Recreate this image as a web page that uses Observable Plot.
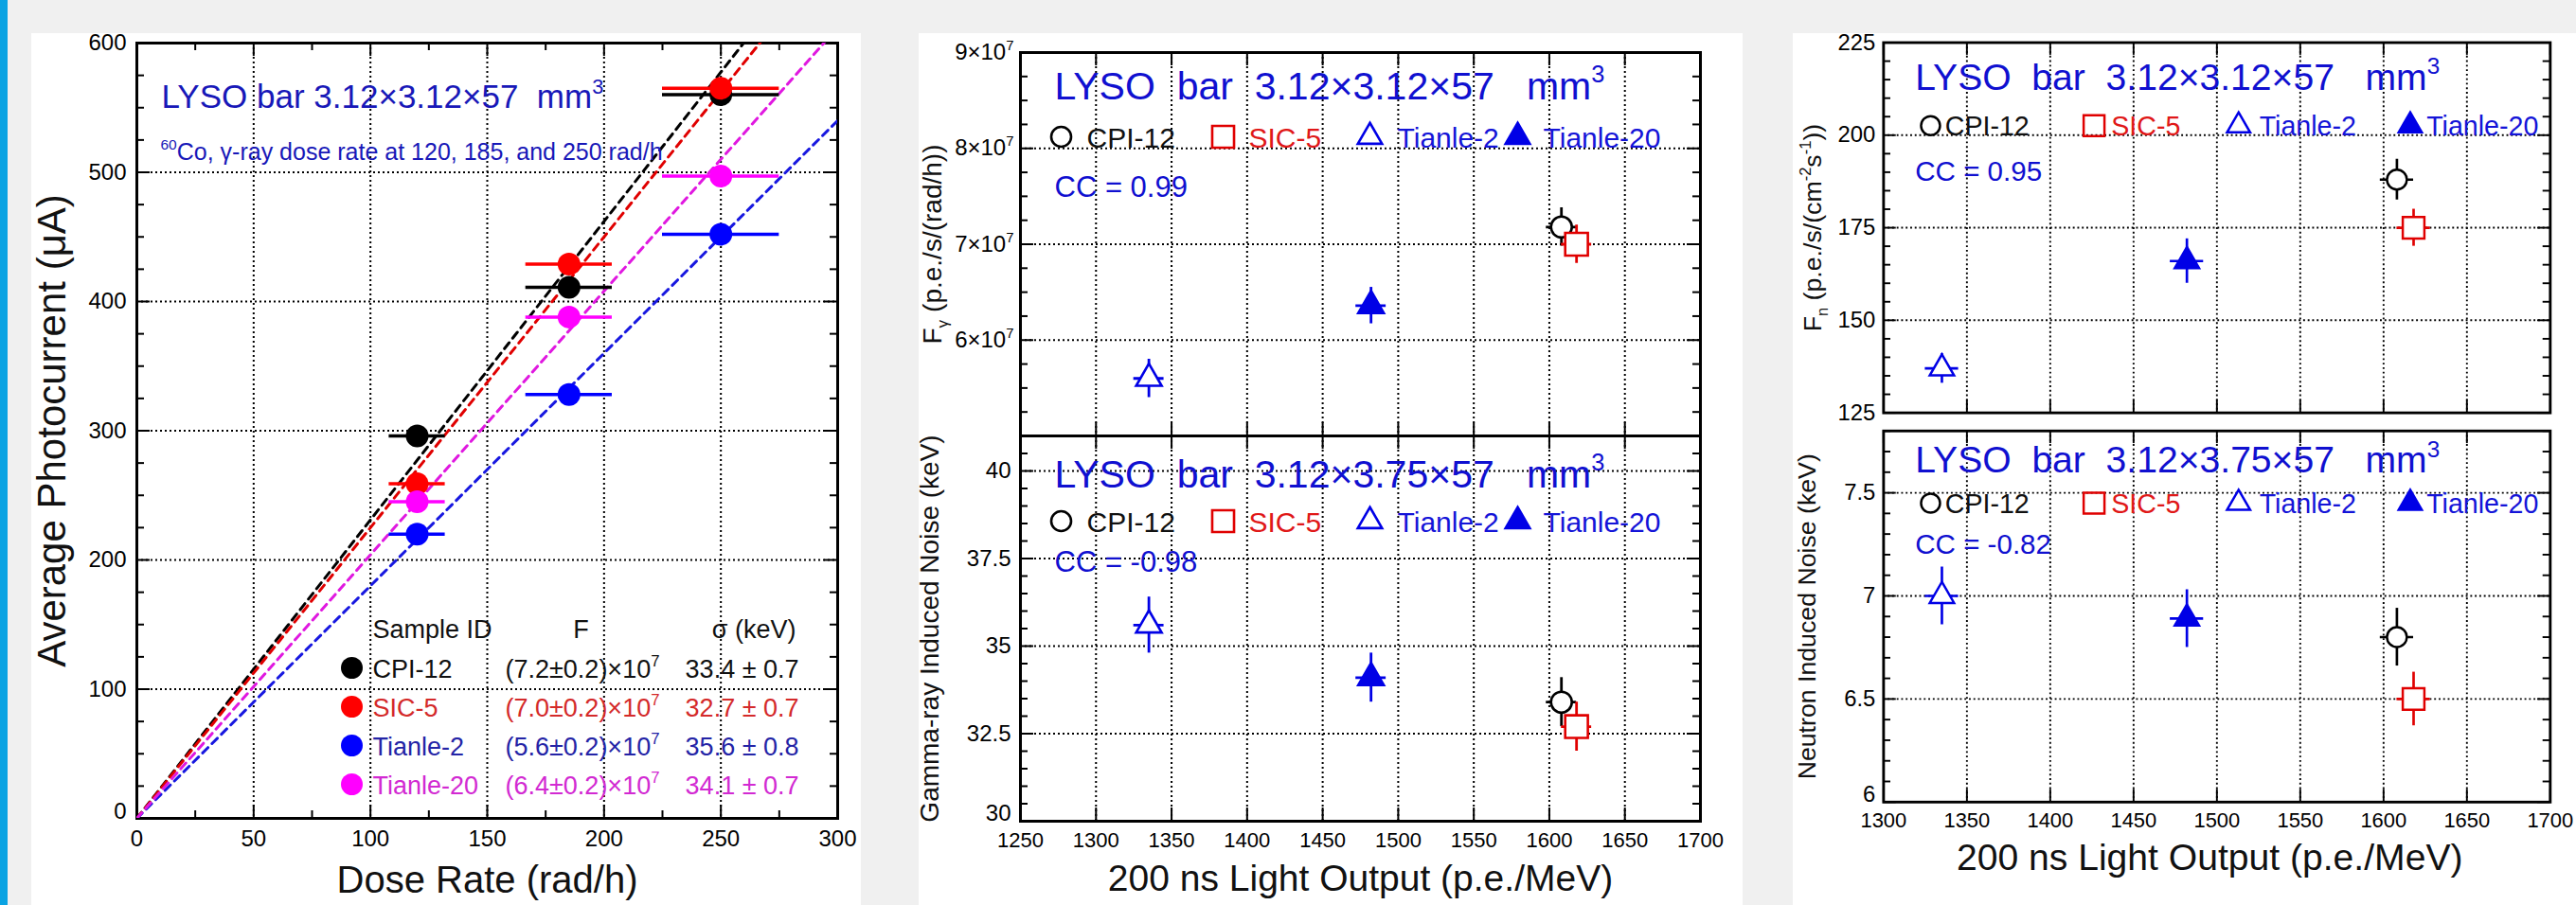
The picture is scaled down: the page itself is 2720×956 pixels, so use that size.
<!DOCTYPE html>
<html>
<head>
<meta charset="utf-8">
<script src="https://cdn.jsdelivr.net/npm/d3@7"></script>
<script src="https://cdn.jsdelivr.net/npm/@observablehq/plot@0.6"></script>
<style>
html, body { margin: 0; padding: 0; }
body { width: 2720px; height: 956px; overflow: hidden; background: #f0f0f0; position: relative;
       font-family: "Liberation Sans", Arial, Helvetica, sans-serif; }
.abs { position: absolute; }
.panel { position: absolute; top: 35px; height: 921px; background: #ffffff; }
svg text { white-space: pre; }
</style>
</head>
<body>
<div class="abs" style="left:0;top:0;width:8px;height:956px;background:#0aa3e3"></div>
<div class="panel" style="left:33px;width:876px"></div>
<div class="panel" style="left:970px;width:870px"></div>
<div class="panel" style="left:1893px;width:827px"></div>
<div id="left" class="abs" style="left:33px;top:35px"></div>
<div id="midTop" class="abs" style="left:970px;top:35px"></div>
<div id="midBot" class="abs" style="left:970px;top:455px"></div>
<div id="rightTop" class="abs" style="left:1893px;top:35px"></div>
<div id="rightBot" class="abs" style="left:1893px;top:450px"></div>
<script>
// ---------------- DATA ----------------
const samples = ["CPI-12", "SIC-5", "Tianle-2", "Tianle-20"];

// Left panel: photocurrent vs dose rate
const doseRate = [120, 185, 250];
const doseRateErr = [12, 18.5, 25];
const photocurrentCPI12 = [296, 411, 560];
const photocurrentSIC5 = [259, 429, 565];
const photocurrentTianle2 = [220, 328, 452];
const photocurrentTianle20 = [245, 388, 497];
const fitSlope = [2.31, 2.25, 1.80, 2.04];
const fText = ["(7.2±0.2)×10^{7}", "(7.0±0.2)×10^{7}", "(5.6±0.2)×10^{7}", "(6.4±0.2)×10^{7}"];
const sigmaText = ["33.4 ± 0.7", "32.7 ± 0.7", "35.6 ± 0.8", "34.1 ± 0.7"];
const doseTicks = [0, 50, 100, 150, 200, 250, 300];
const currentTicks = [0, 100, 200, 300, 400, 500, 600];

// Correlation panels
const lightOutput = [1608, 1618, 1335, 1482];
const lightOutputErr = [10, 10, 10, 10];
const fGamma = [7.18e7, 7.0e7, 5.6e7, 6.36e7];
const fGammaErr = [0.2e7, 0.2e7, 0.2e7, 0.19e7];
const gammaNoise = [33.4, 32.7, 35.6, 34.1];
const gammaNoiseErr = [0.7, 0.7, 0.8, 0.7];
const fNeutron = [188, 175, 137, 166];
const fNeutronErr = [5.5, 5, 4, 6];
const neutronNoise = [6.80, 6.50, 7.00, 6.89];
const neutronNoiseErr = [0.14, 0.13, 0.14, 0.14];
const ccText = ["CC = 0.99", "CC = -0.98", "CC = 0.95", "CC = -0.82"];
const lightTicksMid = [1250, 1300, 1350, 1400, 1450, 1500, 1550, 1600, 1650, 1700];
const lightTicksRight = [1300, 1350, 1400, 1450, 1500, 1550, 1600, 1650, 1700];
const fGammaTicks = [6e7, 7e7, 8e7, 9e7];
const gammaNoiseTicks = [30, 32.5, 35, 37.5, 40];
const fNeutronTicks = [125, 150, 175, 200, 225];
const neutronNoiseTicks = [6, 6.5, 7, 7.5];

// ---------------- STYLE ----------------
const FONT = '"Liberation Sans", Arial, Helvetica, sans-serif';
const leftDotColors = ["#000000", "#ff0000", "#0000ff", "#ff00ff"];
const leftLineColors = ["#000000", "#e00000", "#1818e0", "#e018e0"];
const leftTextColors = ["#111111", "#d42a2a", "#2424a6", "#d22ad2"];
const corrSymbols = ["circle", "square", "triangle", "triangle"];
const corrR = [11, 13.5, 10, 10];
const corrStroke = ["#000000", "#e00000", "#0000e6", "#0000e6"];
const corrFill = ["#ffffff", "#ffffff", "#ffffff", "#0000e6"];
const corrText = ["#111111", "#e01818", "#1414d8", "#1414d8"];
const gridStyle = {stroke: "#000000", strokeWidth: 2, strokeDasharray: "2,3"};

function stepTicks(lo, hi, step) {
  return d3.range(0, Math.round((hi - lo) / step) + 1).map(k => +(lo + k * step).toPrecision(10));
}
function interior(vals, domain) { return vals.filter(v => v > domain[0] + 1e-9 * Math.abs(domain[1]) && v < domain[1] - 1e-9 * Math.abs(domain[1])); }
function minorOnly(minor, major) { return minor.filter(v => !major.some(m => Math.abs(m - v) < 1e-6 * Math.max(1, Math.abs(v)))); }

function frameTicks(xMajor, xMinor, yMajor, yMinor, FW, FH) {
  const st = {stroke: "black", strokeWidth: 2};
  const out = [];
  const addX = (vals, len) => { if (!vals.length) return;
    out.push(Plot.tickX(vals, {x: d => d, ...st, insetTop: FH - len}));
    out.push(Plot.tickX(vals, {x: d => d, ...st, insetBottom: FH - len}));
  };
  const addY = (vals, len) => { if (!vals.length) return;
    out.push(Plot.tickY(vals, {y: d => d, ...st, insetRight: FW - len}));
    out.push(Plot.tickY(vals, {y: d => d, ...st, insetLeft: FW - len}));
  };
  addX(xMajor, 14); addX(xMinor, 8); addY(yMajor, 14); addY(yMinor, 8);
  return out;
}

// y tick labels; the one sitting on the bottom frame edge is lifted a little so it clears the x labels
function yTickLabels(ticks, yDom, opts, lift) {
  const low = ticks.filter(t => Math.abs(t - yDom[0]) < 1e-9 * Math.max(1, Math.abs(t)));
  const rest = ticks.filter(t => !low.includes(t));
  const out = [Plot.axisY(rest, {tickSize: 0, label: null, ...opts})];
  if (low.length && lift) out.push(Plot.axisY(low, {tickSize: 0, label: null, ...opts, dy: -lift}));
  else if (low.length) out.push(Plot.axisY(low, {tickSize: 0, label: null, ...opts}));
  return out;
}

function txt(s, o) {
  return Plot.text([s], {
    text: d => d, frameAnchor: o.frameAnchor ?? "top-left",
    dx: o.dx ?? 0, dy: o.dy ?? 0,
    textAnchor: o.anchor ?? "start", lineAnchor: o.lineAnchor ?? "bottom",
    fontSize: o.size, fill: o.color ?? "#000000", rotate: o.rotate ?? 0, fontFamily: FONT
  });
}

// ---------------- LEFT PLOT ----------------
(function () {
  const W = 876, H = 921, mL = 111, mR = 25, mT = 10, mB = 92;
  const FW = W - mL - mR, FH = H - mT - mB;
  const xDom = d3.extent(doseTicks), yDom = d3.extent(currentTicks);
  const currents = [photocurrentCPI12, photocurrentSIC5, photocurrentTianle2, photocurrentTianle20];
  const marks = [
    Plot.ruleX(interior(doseTicks, xDom), gridStyle),
    Plot.ruleY(interior(currentTicks, yDom), gridStyle),
    ...frameTicks(doseTicks, minorOnly(stepTicks(0, 300, 25), doseTicks),
                  currentTicks, minorOnly(stepTicks(0, 600, 25), currentTicks), FW, FH),
    Plot.frame({stroke: "black", strokeWidth: 3}),
    Plot.axisX(doseTicks, {tickSize: 0, tickPadding: 12, fontSize: 24, label: null, tickFormat: d => `${d}`, fontFamily: FONT}),
    ...yTickLabels(currentTicks, yDom, {tickPadding: 11, fontSize: 24, tickFormat: d => `${d}`, fontFamily: FONT}, 7)
  ];
  samples.forEach((s, i) => {
    const line = xDom.map(d => ({dose: d, current: fitSlope[i] * d}));
    marks.push(Plot.line(line, {x: "dose", y: "current", stroke: leftLineColors[i], strokeWidth: 3, strokeDasharray: "8,6", clip: true}));
  });
  samples.forEach((s, i) => {
    const pts = doseRate.map((d, j) => ({dose: d, err: doseRateErr[j], current: currents[i][j]}));
    marks.push(Plot.ruleY(pts, {y: "current", x1: d => d.dose - d.err, x2: d => d.dose + d.err, stroke: leftDotColors[i], strokeWidth: 3.5}));
    marks.push(Plot.dot(pts, {x: "dose", y: "current", r: 12, fill: leftDotColors[i], stroke: "none"}));
  });
  // annotations
  marks.push(txt("LYSO bar 3.12×3.12×57\u00a0 mm^{3}", {dx: 26, dy: 68, size: 35, color: "#1818b8"}));
  marks.push(txt("^{60}Co, γ-ray dose rate at 120, 185, and 250 rad/h", {dx: 25, dy: 123, size: 25, color: "#1818b8"}));
  marks.push(txt("Sample ID", {dx: 249, dy: 628, size: 27, color: "#111"}));
  marks.push(txt("F", {dx: 469, dy: 628, size: 27, color: "#111", anchor: "middle"}));
  marks.push(txt("σ (keV)", {dx: 696, dy: 628, size: 27, color: "#111", anchor: "end"}));
  samples.forEach((s, i) => {
    const base = 670 + 41 * i;
    marks.push(Plot.dot([s], {frameAnchor: "top-left", dx: 227, dy: base - 10, r: 11.5, fill: leftDotColors[i], stroke: "none"}));
    marks.push(txt(s, {dx: 249, dy: base, size: 27, color: leftTextColors[i]}));
    marks.push(txt(fText[i], {dx: 389, dy: base, size: 27, color: leftTextColors[i]}));
    marks.push(txt(sigmaText[i], {dx: 699, dy: base, size: 27, color: leftTextColors[i], anchor: "end"}));
  });
  marks.push(txt("Average Photocurrent (μA)", {frameAnchor: "left", dx: -89, size: 42, rotate: -90, anchor: "middle", lineAnchor: "middle", color: "#111"}));
  marks.push(txt("Dose Rate (rad/h)", {frameAnchor: "bottom", dy: 78, size: 40, anchor: "middle", color: "#111"}));
  const svg = Plot.plot({
    width: W, height: H, marginLeft: mL, marginRight: mR, marginTop: mT, marginBottom: mB,
    x: {domain: xDom, axis: null}, y: {domain: yDom, axis: null},
    style: {fontFamily: FONT, fontSize: "24px", background: "transparent", overflow: "visible"},
    marks
  });
  document.getElementById("left").appendChild(svg);
})();

// ---------------- CORRELATION PLOTS ----------------
function corrPlot(o) {
  const FW = o.W - o.mL - o.mR, FH = o.H - o.mT - o.mB;
  const xMajor = stepTicks(o.xDom[0], o.xDom[1], 50);
  const yMajor = stepTicks(o.yDom[0], o.yDom[1], o.yMajorStep).filter(v => v <= o.yDom[1] + 1e-9);
  const yMinor = minorOnly(stepTicks(o.yDom[0], o.yDom[1], o.yMinorStep), yMajor);
  const marks = [
    Plot.ruleX(interior(xMajor, o.xDom), gridStyle),
    Plot.ruleY(o.yGrid, gridStyle),
    ...frameTicks(xMajor, [], yMajor, yMinor, FW, FH),
    Plot.frame({stroke: "black", strokeWidth: 3}),
    ...yTickLabels(o.yTicks, o.yDom, {tickPadding: o.yPad, fontSize: o.yTickSize, tickFormat: o.yFormat, fontFamily: FONT}, o.showX ? 8 : 0)
  ];
  if (o.showX) marks.push(Plot.axisX(o.xTicks, {tickSize: 0, tickPadding: 12, fontSize: o.xTickSize, label: null, tickFormat: d => `${d}`, fontFamily: FONT}));
  samples.forEach((s, i) => {
    const d = [{x: lightOutput[i], xe: lightOutputErr[i], y: o.y[i], ye: o.yErr[i]}];
    marks.push(Plot.ruleX(d, {x: "x", y1: p => p.y - p.ye, y2: p => p.y + p.ye, stroke: corrStroke[i], strokeWidth: 2.8}));
    marks.push(Plot.ruleY(d, {y: "y", x1: p => p.x - p.xe, x2: p => p.x + p.xe, stroke: corrStroke[i], strokeWidth: 2.8}));
    marks.push(Plot.dot(d, {x: "x", y: "y", symbol: corrSymbols[i], r: corrR[i], stroke: corrStroke[i], fill: corrFill[i], strokeWidth: 2.6}));
  });
  marks.push(txt(o.title, {dx: o.titleDx, dy: o.titleDy, size: 41, color: "#1010d0"}));
  samples.forEach((s, i) => {
    marks.push(Plot.dot([s], {frameAnchor: "top-left", dx: o.symDx[i], dy: o.legendDy - 11, symbol: corrSymbols[i], r: corrR[i] - 0.5, stroke: corrStroke[i], fill: i === 3 ? corrFill[i] : "none", strokeWidth: 2.6}));
    marks.push(txt(s, {dx: o.textDx[i], dy: o.legendDy, size: 30, color: corrText[i]}));
  });
  marks.push(txt(o.cc, {dx: o.titleDx, dy: o.ccDy, size: 31, color: "#1010d0"}));
  marks.push(txt(o.yLabel, {frameAnchor: "left", dx: o.yLabelDx, size: 28, rotate: -90, anchor: "middle", lineAnchor: "middle", color: "#111"}));
  if (o.showX) marks.push(txt("200 ns Light Output (p.e./MeV)", {frameAnchor: "bottom", dx: o.xLabelDx, dy: o.xLabelDy, size: o.xLabelSize, anchor: "middle", color: "#111"}));
  const svg = Plot.plot({
    width: o.W, height: o.H, marginLeft: o.mL, marginRight: o.mR, marginTop: o.mT, marginBottom: o.mB,
    x: {domain: o.xDom, axis: null}, y: {domain: o.yDom, axis: null},
    style: {fontFamily: FONT, fontSize: `${o.yTickSize}px`, background: "transparent", overflow: "visible"},
    marks
  });
  document.getElementById(o.el).appendChild(svg);
}

const midSym = [43, 214, 369, 525], midTxt = [70, 241, 398, 552];
const rightSym = [52, 233, 393, 583], rightTxt = [68, 252, 416, 601];

corrPlot({el: "midTop", W: 870, H: 430, mL: 107, mR: 45, mT: 20, mB: 5,
  xDom: d3.extent(lightTicksMid), xTicks: lightTicksMid, showX: false,
  yDom: [5e7, 9e7], yMajorStep: 1e7, yMinorStep: 0.25e7, yGrid: [6e7, 7e7, 8e7],
  yTicks: fGammaTicks, yFormat: d => `${Math.round(d / 1e7)}×10^{7}`, yPad: 7, yTickSize: 24, xTickSize: 22,
  y: fGamma, yErr: fGammaErr,
  title: "LYSO\u00a0 bar\u00a0 3.12×3.12×57\u00a0\u00a0 mm^{3}", titleDx: 36, titleDy: 49,
  symDx: midSym, textDx: midTxt, legendDy: 100, cc: ccText[0], ccDy: 152,
  yLabel: "F_{γ} (p.e./s/(rad/h))", yLabelDx: -92});

corrPlot({el: "midBot", W: 870, H: 501, mL: 107, mR: 45, mT: 5, mB: 89,
  xDom: d3.extent(lightTicksMid), xTicks: lightTicksMid, showX: true, xLabelDx: 0, xLabelDy: 73, xLabelSize: 39,
  yDom: [30, 41], yMajorStep: 2.5, yMinorStep: 0.5, yGrid: [32.5, 35, 37.5, 40],
  yTicks: gammaNoiseTicks, yFormat: d => `${d}`, yPad: 10, yTickSize: 24, xTickSize: 22,
  y: gammaNoise, yErr: gammaNoiseErr,
  title: "LYSO\u00a0 bar\u00a0 3.12×3.75×57\u00a0\u00a0 mm^{3}", titleDx: 36, titleDy: 54,
  symDx: midSym, textDx: midTxt, legendDy: 101, cc: ccText[1], ccDy: 143,
  yLabel: "Gamma-ray Induced Noise (keV)", yLabelDx: -95});

corrPlot({el: "rightTop", W: 867, H: 425, mL: 100, mR: 29, mT: 10, mB: 5,
  xDom: d3.extent(lightTicksRight), xTicks: lightTicksRight, showX: false,
  yDom: [125, 225], yMajorStep: 25, yMinorStep: 5, yGrid: [150, 175, 200],
  yTicks: fNeutronTicks, yFormat: d => `${d}`, yPad: 9, yTickSize: 25, xTickSize: 23,
  y: fNeutron, yErr: fNeutronErr,
  title: "LYSO\u00a0 bar\u00a0 3.12×3.12×57\u00a0\u00a0 mm^{3}", titleDx: 35, titleDy: 52,
  symDx: rightSym, textDx: rightTxt, legendDy: 103, cc: ccText[2], ccDy: 153,
  yLabel: "F_{n} (p.e./s/(cm^{-2}s^{-1}))", yLabelDx: -78});

corrPlot({el: "rightBot", W: 867, H: 506, mL: 100, mR: 29, mT: 5, mB: 90,
  xDom: d3.extent(lightTicksRight), xTicks: lightTicksRight, showX: true, xLabelDx: -8, xLabelDy: 75, xLabelSize: 41,
  yDom: [6, 7.8], yMajorStep: 0.5, yMinorStep: 0.1, yGrid: [6.5, 7, 7.5],
  yTicks: neutronNoiseTicks, yFormat: d => `${d}`, yPad: 9, yTickSize: 25, xTickSize: 23,
  y: neutronNoise, yErr: neutronNoiseErr,
  title: "LYSO\u00a0 bar\u00a0 3.12×3.75×57\u00a0\u00a0 mm^{3}", titleDx: 35, titleDy: 46,
  symDx: rightSym, textDx: rightTxt, legendDy: 91, cc: ccText[3], ccDy: 136,
  yLabel: "Neutron Induced Noise (keV)", yLabelDx: -84});

// ---------------- rich text (super/subscripts) ----------------
function richify(root) {
  const NS = "http://www.w3.org/2000/svg";
  root.querySelectorAll("svg text, svg tspan").forEach(el => {
    if (el.children.length) return;
    const s = el.textContent;
    if (!/[\^_]\{/.test(s)) return;
    const fs = parseFloat(getComputedStyle(el).fontSize) || 20;
    const parts = [];
    const re = /(\^|_)\{([^}]*)\}/g;
    let last = 0, m;
    while ((m = re.exec(s))) {
      if (m.index > last) parts.push({t: s.slice(last, m.index), k: "n"});
      parts.push({t: m[2], k: m[1] === "^" ? "sup" : "sub"});
      last = re.lastIndex;
    }
    if (last < s.length) parts.push({t: s.slice(last), k: "n"});
    el.textContent = "";
    let shift = 0;
    parts.forEach(p => {
      const t = document.createElementNS(NS, "tspan");
      const want = p.k === "sup" ? -0.42 * fs : p.k === "sub" ? 0.25 * fs : 0;
      if (want !== shift) t.setAttribute("dy", (want - shift).toFixed(2));
      shift = want;
      if (p.k !== "n") t.setAttribute("font-size", (0.62 * fs).toFixed(2));
      t.textContent = p.t;
      el.appendChild(t);
    });
  });
}
richify(document.body);
</script>
</body>
</html>
